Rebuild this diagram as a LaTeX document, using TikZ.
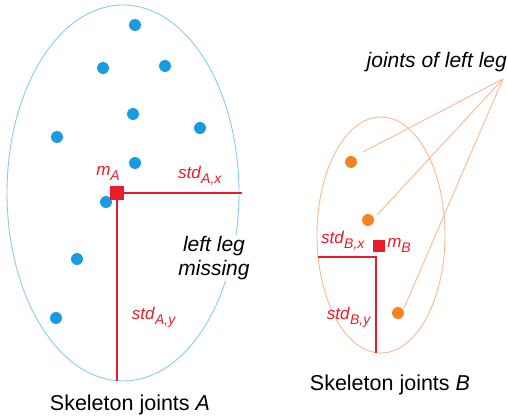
\documentclass[tikz,border=0pt]{standalone}
\usepackage{fontspec}
\setmainfont{Liberation Sans}
\definecolor{dotblue}{HTML}{1A9AE0}
\definecolor{ellblue}{HTML}{86CCEA}
\definecolor{dotorange}{HTML}{F5841F}
\definecolor{ellorange}{HTML}{F8B98C}
\definecolor{myred}{HTML}{E61E2B}
\newcommand{\lbl}[2]{\textit{#1}\raisebox{-0.3em}{\fontsize{14}{14}\selectfont\textit{#2}}}
\begin{document}
\begin{tikzpicture}[x=1pt,y=-1pt,
  bdot/.style={circle,fill=dotblue,inner sep=0pt,minimum size=12pt},
  odot/.style={circle,fill=dotorange,inner sep=0pt,minimum size=12pt},
  sq/.style={rectangle,fill=myred,inner sep=0pt,minimum size=#1},
  redline/.style={myred,line width=2pt},
  leader/.style={ellorange,line width=0.9pt},
  redlbl/.style={text=myred,font=\fontsize{17}{17}\selectfont,inner sep=1pt},
  caption/.style={font=\fontsize{21.5}{24}\selectfont,inner sep=1pt}]
\useasboundingbox (0,0) rectangle (507,420);
% Skeleton A
\draw[ellblue,line width=0.9pt] (123,193) ellipse [x radius=116pt, y radius=188pt];
\node[bdot] (a1) at (135,25) {};
\node[bdot] (a2) at (103,68) {};
\node[bdot] (a3) at (165,66) {};
\node[bdot] (a4) at (133,114) {};
\node[bdot] (a5) at (200,128) {};
\node[bdot] (a6) at (57,137) {};
\node[bdot] (a7) at (135,163) {};
\node[bdot] (a8) at (106,202) {};
\node[bdot] (a9) at (77,259) {};
\node[bdot] (a10) at (56,318) {};
\coordinate (axend) at (242,193);
\coordinate (ayend) at (117,381);
\node[sq=14pt] (mA) at (117,193) {};
\draw[redline] (mA.center) -- (axend);
\draw[redline] (mA.center) -- (ayend);
\node[sq=14pt] at (117,193) {};
\node[redlbl] (lmA) at (108,173) {\lbl{m}{A}};
\node[redlbl] (lsAx) at (200,176) {\lbl{std}{A,x}};
\node[redlbl] (lsAy) at (154,317) {\lbl{std}{A,y}};
\node[caption,fill=white,align=center,font=\fontsize{21}{24}\selectfont\itshape] (miss) at (214,258) {left leg\\missing};
\node[caption] (capA) at (130,405) {Skeleton joints \textit{A}};
% Skeleton B
\draw[ellorange,line width=0.9pt] (381,235) ellipse [x radius=64pt, y radius=118pt];
\node[odot] (b1) at (351,162) {};
\node[odot] (b2) at (368,220) {};
\node[odot] (b3) at (398,313) {};
\coordinate (apex) at (503,79);
\coordinate (e1) at (363,152);
\coordinate (e2) at (377,215);
\coordinate (e3) at (404,308);
\draw[leader] (apex) -- (e1);
\draw[leader] (apex) -- (e2);
\draw[leader] (apex) -- (e3);
\node[caption,anchor=east,font=\fontsize{21}{24}\selectfont\itshape] (legs) at (508,62) {joints of left leg};
\coordinate (bcorner) at (376,257);
\coordinate (bxend) at (318,257);
\coordinate (byend) at (376,353);
\draw[redline] (bxend) -- (bcorner) -- (byend);
\node[sq=12pt] (mB) at (379,246) {};
\node[redlbl] (lmB) at (399,245) {\lbl{m}{B}};
\node[redlbl] (lsBx) at (343,241) {\lbl{std}{B,x}};
\node[redlbl] (lsBy) at (349,317) {\lbl{std}{B,y}};
\node[caption] (capB) at (390,385) {Skeleton joints \textit{B}};
\end{tikzpicture}
\end{document}
